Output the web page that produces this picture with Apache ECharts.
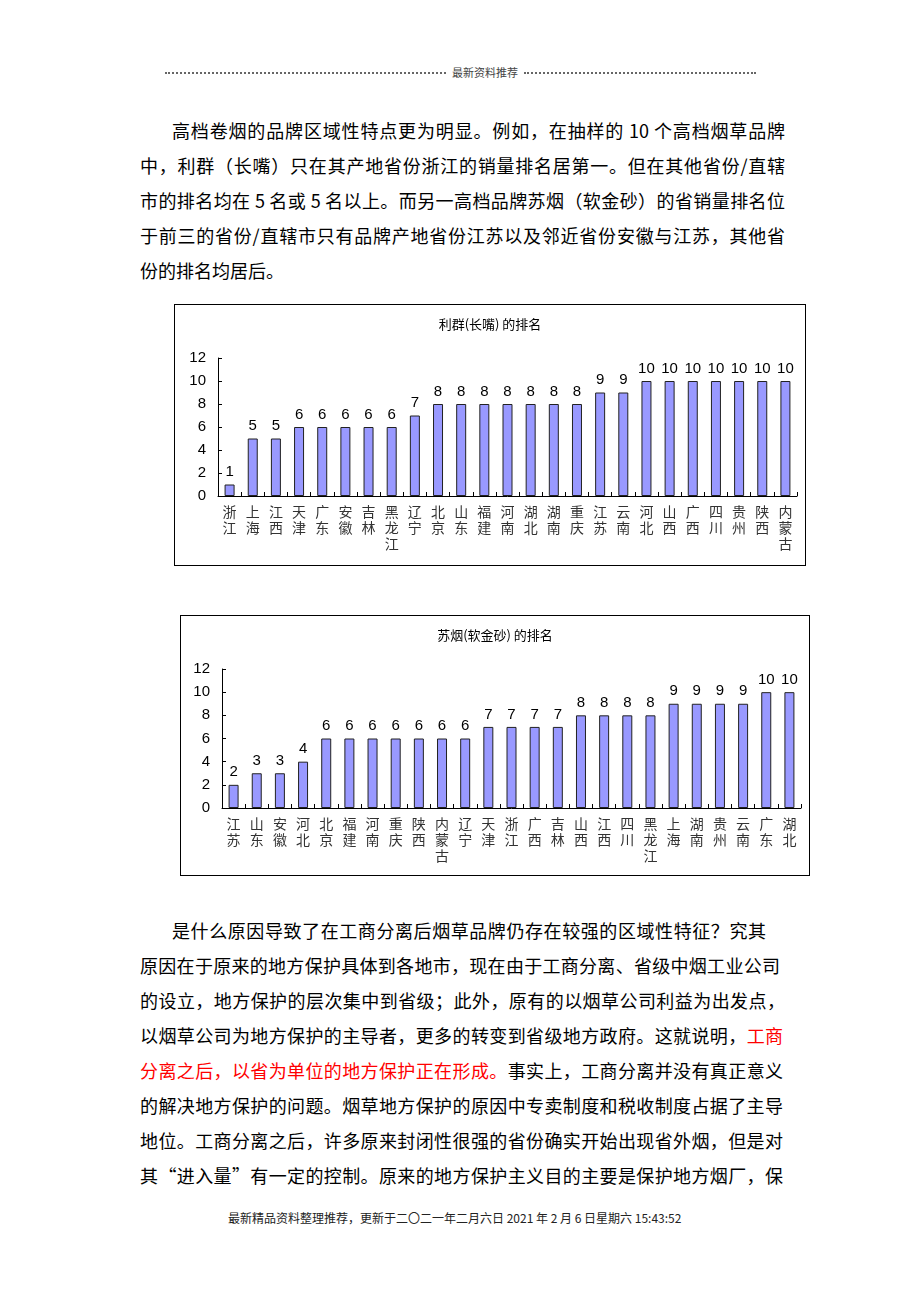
<!DOCTYPE html>
<html>
<head>
<meta charset="utf-8">
<script src="https://cdn.jsdelivr.net/npm/echarts@6/dist/echarts.min.js"></script>
<style>
  html, body { margin:0; padding:0; background:#fff; }
  body { width:920px; height:1302px; position:relative; overflow:hidden; font-family:"Noto Sans CJK SC", sans-serif; color:#000; }
  .ln { position:absolute; height:35px; line-height:35px; font-size:18px; text-align:justify; text-align-last:justify; white-space:normal; }
  .last { text-align:left; text-align-last:left; }
  .red { color:#ff0000; }
  .chart { position:absolute; box-sizing:border-box; border:1px solid #000; }
  .dots { position:absolute; top:72px; height:0; border-top:2px dotted #666; }
</style>
</head>
<body>
<!-- header -->
<div class="dots" style="left:165px; width:281px;"></div>
<div style="position:absolute; left:447px; top:64px; width:76px; font-size:11px; line-height:16px; color:#444; text-align:center;">最新资料推荐</div>
<div class="dots" style="left:524px; width:232px;"></div>

<!-- paragraph 1 -->
<div class="ln" style="left:172px; top:113px; width:613px;">高档卷烟的品牌区域性特点更为明显。例如，在抽样的 10 个高档烟草品牌</div>
<div class="ln" style="left:140px; top:148px; width:645px;">中，利群（长嘴）只在其产地省份浙江的销量排名居第一。但在其他省份/直辖</div>
<div class="ln" style="left:140px; top:183px; width:645px;">市的排名均在 5 名或 5 名以上。而另一高档品牌苏烟（软金砂）的省销量排名位</div>
<div class="ln" style="left:140px; top:218px; width:645px;">于前三的省份/直辖市只有品牌产地省份江苏以及邻近省份安徽与江苏，其他省</div>
<div class="ln last" style="left:140px; top:253px; width:645px;">份的排名均居后。</div>

<!-- charts -->
<div id="c1" class="chart" style="left:174px; top:304px; width:632px; height:262px;"></div>
<div id="c2" class="chart" style="left:180px; top:615px; width:630px; height:261px;"></div>

<!-- paragraph 2 -->
<div class="ln" style="left:172px; top:913px; width:594px;">是什么原因导致了在工商分离后烟草品牌仍存在较强的区域性特征？究其</div>
<div class="ln" style="left:140px; top:948px; width:640px;">原因在于原来的地方保护具体到各地市，现在由于工商分离、省级中烟工业公司</div>
<div class="ln" style="left:140px; top:983px; width:645px;">的设立，地方保护的层次集中到省级；此外，原有的以烟草公司利益为出发点，</div>
<div class="ln" style="left:140px; top:1018px; width:643px;">以烟草公司为地方保护的主导者，更多的转变到省级地方政府。这就说明，<span class="red">工商</span></div>
<div class="ln" style="left:140px; top:1053px; width:643px;"><span class="red">分离之后，以省为单位的地方保护正在形成。</span>事实上，工商分离并没有真正意义</div>
<div class="ln" style="left:140px; top:1088px; width:643px;">的解决地方保护的问题。烟草地方保护的原因中专卖制度和税收制度占据了主导</div>
<div class="ln" style="left:140px; top:1123px; width:643px;">地位。工商分离之后，许多原来封闭性很强的省份确实开始出现省外烟，但是对</div>
<div class="ln" style="left:140px; top:1158px; width:643px;">其“进入量”有一定的控制。原来的地方保护主义目的主要是保护地方烟厂，保</div>

<!-- footer -->
<div style="position:absolute; left:228px; top:1210px; font-size:12px; line-height:16px; color:#222; white-space:nowrap;">最新精品资料整理推荐，更新于二〇二一年二月六日 2021 年 2 月 6 日星期六 15:43:52</div>

<script>
// ---- data ----
const chart1Title = '利群(长嘴) 的排名';
const chart1Categories = ['浙江','上海','江西','天津','广东','安徽','吉林','黑龙江','辽宁','北京','山东','福建','河南','湖北','湖南','重庆','江苏','云南','河北','山西','广西','四川','贵州','陕西','内蒙古'];
const chart1Values = [1,5,5,6,6,6,6,6,7,8,8,8,8,8,8,8,9,9,10,10,10,10,10,10,10];

const chart2Title = '苏烟(软金砂) 的排名';
const chart2Categories = ['江苏','山东','安徽','河北','北京','福建','河南','重庆','陕西','内蒙古','辽宁','天津','浙江','广西','吉林','山西','江西','四川','黑龙江','上海','湖南','贵州','云南','广东','湖北'];
const chart2Values = [2,3,3,4,6,6,6,6,6,6,6,7,7,7,7,8,8,8,8,9,9,9,9,10,10];

const yMin = 0, yMax = 12, yInterval = 2;

function buildOption(title, cats, vals, grid) {
  return {
    animation: false,
    title: {
      text: title, left: 'center', top: 8,
      textStyle: { fontSize: 13, fontWeight: 'normal', color: '#000', fontFamily: 'Noto Sans CJK SC' }
    },
    grid: Object.assign({ containLabel: false, outerBoundsMode: 'none' }, grid),
    xAxis: {
      type: 'category',
      data: cats,
      axisLine: { lineStyle: { color: '#000', width: 1 } },
      axisTick: { show: true, inside: true, length: 4, lineStyle: { color: '#000' } },
      axisLabel: {
        interval: 0, margin: 8, color: '#333', fontSize: 14, lineHeight: 16,
        fontFamily: 'Noto Sans CJK SC',
        formatter: v => v.split('').join('\n')
      },
      splitLine: { show: false }
    },
    yAxis: {
      type: 'value', min: yMin, max: yMax, interval: yInterval,
      axisLine: { show: true, lineStyle: { color: '#000', width: 1 } },
      axisTick: { show: true, inside: true, length: 4, lineStyle: { color: '#000' } },
      axisLabel: { margin: 12, color: '#000', fontSize: 15, fontFamily: 'Liberation Sans' },
      splitLine: { show: false }
    },
    series: [{
      type: 'bar',
      data: vals,
      barWidth: 10,
      itemStyle: { color: '#9999ff', borderColor: '#222', borderWidth: 1 },
      label: { show: true, position: 'top', distance: 5, color: '#000', fontSize: 15, fontFamily: 'Liberation Sans' }
    }]
  };
}

const c1 = echarts.init(document.getElementById('c1'), null, { renderer: 'canvas' });
c1.setOption(buildOption(chart1Title, chart1Categories, chart1Values, { left: 43, right: 8, top: 53, bottom: 69 }));

const c2 = echarts.init(document.getElementById('c2'), null, { renderer: 'canvas' });
c2.setOption(buildOption(chart2Title, chart2Categories, chart2Values, { left: 41, right: 8, top: 53, bottom: 67 }));
</script>
</body>
</html>
